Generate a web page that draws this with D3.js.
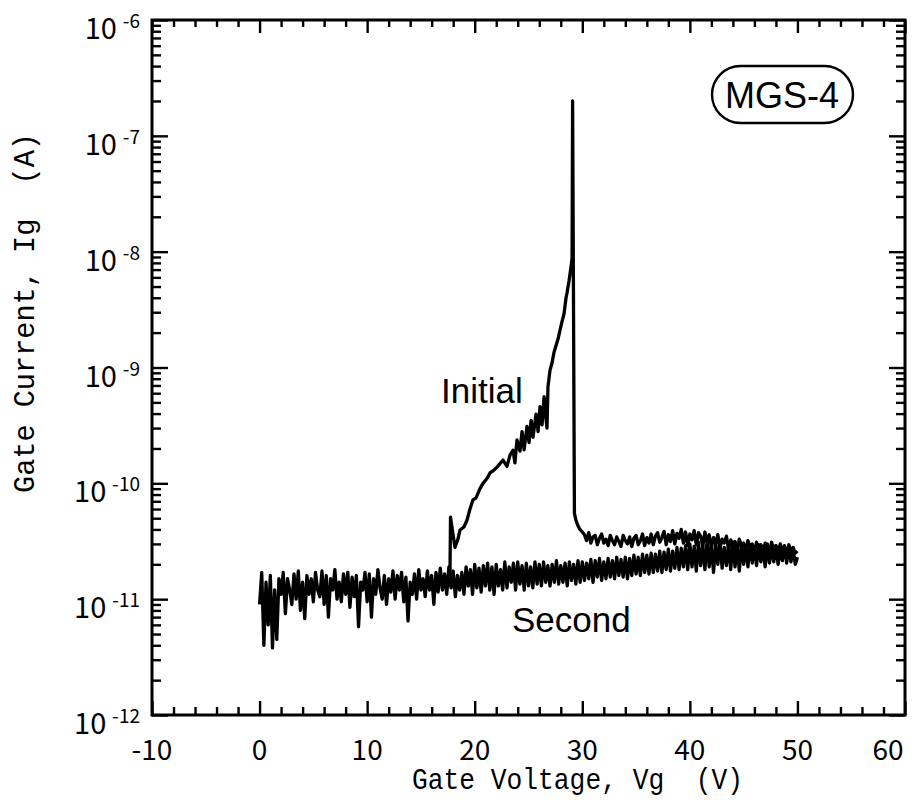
<!DOCTYPE html>
<html>
<head>
<meta charset="utf-8">
<script src="https://cdn.jsdelivr.net/npm/d3@7"></script>
<style>
  html, body { margin: 0; padding: 0; background: #fff; }
  svg { display: block; }
</style>
</head>
<body>
<svg id="chart" width="912" height="800"></svg>
<script>
// Gate current sweeps against gate voltage (V); currents listed in pA
const xTickValues = [-10, 0, 10, 20, 30, 40, 50, 60];
const xMinorValues = [-8, -6, -4, -2, 2, 4, 6, 8, 12, 14, 16, 18, 22, 24, 26, 28, 32, 34, 36, 38, 42, 44, 46, 48, 52, 54, 56, 58];
const yDecades = [-12, -11, -10, -9, -8, -7, -6];

// Second sweep
const secondV = [
  0,0.2,0.4,0.6,0.8,1,1.2,1.4,1.6,1.8,
  2,2.2,2.4,2.6,2.8,3,3.2,3.4,3.6,3.8,
  4,4.2,4.4,4.6,4.8,5,5.2,5.4,5.6,5.8,
  6,6.2,6.4,6.6,6.8,7,7.2,7.4,7.6,7.8,
  8,8.2,8.4,8.6,8.8,9,9.2,9.4,9.6,9.8,
  10,10.2,10.4,10.6,10.8,11,11.2,11.4,11.6,11.8,
  12,12.2,12.4,12.6,12.8,13,13.2,13.4,13.6,13.8,
  14,14.2,14.4,14.6,14.8,15,15.2,15.4,15.6,15.8,
  16,16.2,16.4,16.6,16.8,17,17.2,17.4,17.6,17.8,
  18,18.2,18.4,18.6,18.8,19,19.2,19.4,19.6,19.8,
  20,20.2,20.4,20.6,20.8,21,21.2,21.4,21.6,21.8,
  22,22.2,22.4,22.6,22.8,23,23.2,23.4,23.6,23.8,
  24,24.2,24.4,24.6,24.8,25,25.2,25.4,25.6,25.8,
  26,26.2,26.4,26.6,26.8,27,27.2,27.4,27.6,27.8,
  28,28.2,28.4,28.6,28.8,29,29.2,29.4,29.6,29.8,
  30,30.2,30.4,30.6,30.8,31,31.2,31.4,31.6,31.8,
  32,32.2,32.4,32.6,32.8,33,33.2,33.4,33.6,33.8,
  34,34.2,34.4,34.6,34.8,35,35.2,35.4,35.6,35.8,
  36,36.2,36.4,36.6,36.8,37,37.2,37.4,37.6,37.8,
  38,38.2,38.4,38.6,38.8,39,39.2,39.4,39.6,39.8,
  40,40.2,40.4,40.6,40.8,41,41.2,41.4,41.6,41.8,
  42,42.2,42.4,42.6,42.8,43,43.2,43.4,43.6,43.8,
  44,44.2,44.4,44.6,44.8,45,45.2,45.4,45.6,45.8,
  46,46.2,46.4,46.6,46.8,47,47.2,47.4,47.6,47.8,
  48,48.2,48.4,48.6,48.8,49,49.2,49.4,49.6,49.8,
  50
];
const secondPA = [
  9,17,4,14,6,16,3.8,12,4.5,15,
  11,17,7.5,15,12,9,16.5,10,17.5,8,
  14,6.8,16,11,15,9.5,17,12,10.5,17.5,
  9,16,7,15,12,18,10,14,9.5,16.5,
  11,17,8.5,15.5,10.5,16,5.8,14,12,17,
  9.5,16.5,7,15,11,18,12.5,10,16,9,
  15,11.5,17.5,10,16,12,17,9.5,15.5,6.5,
  14,11,16.5,10,18,12,15,10.5,17.5,12,
  16,9,17,11.5,18.5,12,16.5,11,19,12.5,
  17.5,10.5,16,12,17,11,19,13,18,11,
  20,12.5,18.5,11.5,19.5,13,20.5,12,19,11,
  20,13,18,12,21,12.5,19,14,20.5,12,
  21,13.5,19.5,12,20.5,13,19,12.5,21,13.5,
  20,13,21,14,19.5,13,20,14,21.5,13.5,
  19.5,14,20.5,13,21,14.5,20,13.5,21.5,14,
  21,14.5,20.5,15,22,14,21.5,15.5,22.5,14.5,
  21,15,22.5,15.5,21.5,15,23,16,22,15.5,
  23,15,22.5,16,24,16.5,23,16,24.5,17,
  24,16.5,25,17,24.5,17.5,26,17,25.5,18,
  27,17.5,26,18.5,28,18,27.5,19,29,18,
  30,19,28.5,17.5,31,19.5,29,18,32,19,
  29.5,17,30,20,31.5,18.5,28,19.5,30,18,
  31,19,29,17.5,30.5,20,28.5,19,29.5,20.5,
  28,19.5,29.5,21,28.5,19,30,20.5,28,21,
  29,20,27.5,21.5,29,20.5,28,21,27,20,
  23
];

// Initial sweep: rise, breakdown spike near 29 V, then recovery
const initialV = [
  17.70,17.75,18.16,18.44,18.63,19.00,19.28,19.56,19.84,20.12,
  20.49,20.77,21.14,21.42,21.79,22.07,22.35,22.63,23.00,23.28,
  23.56,23.74,23.93,24.21,24.40,24.59,24.86,25.05,25.24,25.42,
  25.70,25.89,26.07,26.26,26.45,26.63,26.72,26.81,27.00,27.19,
  27.37,27.56,27.74,27.93,28.12,28.30,28.49,28.58,28.77,28.96,
  29.05,29.10,29.27,29.41,29.60,29.78,30.0,
  30.2,30.4,30.6,30.8,31,31.2,31.4,31.6,31.8,32,
  32.2,32.4,32.6,32.8,33,33.2,33.4,33.6,33.8,34,
  34.2,34.4,34.6,34.8,35,35.2,35.4,35.6,35.8,36,
  36.2,36.4,36.6,36.8,37,37.2,37.4,37.6,37.8,38,
  38.2,38.4,38.6,38.8,39,39.2,39.4,39.6,39.8,40,
  40.2,40.4,40.6,40.8,41,41.2,41.4,41.6,41.8,42,
  42.2,42.4,42.6,42.8,43,43.2,43.4,43.6,43.8,44,
  44.2,44.4,44.6,44.8,45,45.2,45.4,45.6,45.8,46,
  46.2,46.4,46.6,46.8,47,47.2,47.4,47.6,47.8,48,
  48.2,48.4,48.6,48.8,49,49.2,49.4,49.6,49.8,50
];
const initialPA = [
  16,51,28,33,39.5,42,48,60,72,75,
  90,100,110,123,130,138,148,159,140,175,
  193,150,237,190,280,195,310,225,350,250,
  395,280,460,320,560,360,300,680,950,1100,
  1350,1550,1750,2100,2500,2900,4000,4400,5600,7500,
  8800,200000,55,48,43,40,38,
  36,32,37.5,30.5,34.5,35.5,29.5,33.5,36.5,30.5,
  33,29,35.5,32,29.5,34.5,31.5,28.5,35.5,32,
  30,34.5,28.5,33.5,35.5,29.5,32,36.5,29,34,
  30.5,36.5,29.5,35,37.5,31,34,38.5,29.5,36,
  31.5,39,30,37,33.5,40,30.5,38,29,36.5,
  32.5,39,29.5,37.5,35,28.5,38,31.5,36,28,
  34,30,36,27.5,33,30.5,35,27,32.5,28.5,
  31.5,26.5,33,28.5,30.5,26,32,28,30,25.5,
  31,27,29.5,25,30.5,27.5,26,31,26.5,29,
  25,30,26.5,28.5,24.5,29.5,26,28,25,26
];

const svg = d3.select("#chart");
const plot = { left: 152, right: 905, top: 20, bottom: 715 };

const x = d3.scaleLinear().domain([-10, 60]).range([plot.left, plot.right]);
const y = d3.scaleLog().domain([1e-12, 1e-6]).range([plot.bottom, plot.top]);

const yMajor = yDecades.map(e => Math.pow(10, e));
const yMinor = [];
yDecades.slice(0, -1).forEach(e => {
  for (let k = 2; k <= 9; k++) yMinor.push(k * Math.pow(10, e));
});

// Tick marks, all pointing inward
function tickGroup(axis, transform) {
  const g = svg.append("g").attr("transform", transform).call(axis);
  g.select(".domain").remove();
  g.selectAll(".tick line").attr("stroke", "#000").attr("stroke-width", 2.4);
  g.selectAll(".tick text").remove();
  return g;
}
tickGroup(d3.axisBottom(x).tickValues(xTickValues).tickSize(-14).tickFormat(""), `translate(0,${plot.bottom})`);
tickGroup(d3.axisBottom(x).tickValues(xMinorValues).tickSize(-8).tickFormat(""), `translate(0,${plot.bottom})`);
tickGroup(d3.axisTop(x).tickValues(xTickValues).tickSize(-13).tickFormat(""), `translate(0,${plot.top})`);
tickGroup(d3.axisTop(x).tickValues(xMinorValues).tickSize(-7).tickFormat(""), `translate(0,${plot.top})`);
tickGroup(d3.axisLeft(y).tickValues(yMajor).tickSize(-16).tickFormat(""), `translate(${plot.left},0)`);
tickGroup(d3.axisLeft(y).tickValues(yMinor).tickSize(-9).tickFormat(""), `translate(${plot.left},0)`);
tickGroup(d3.axisRight(y).tickValues(yMajor).tickSize(-16).tickFormat(""), `translate(${plot.right},0)`);
tickGroup(d3.axisRight(y).tickValues(yMinor).tickSize(-9).tickFormat(""), `translate(${plot.right},0)`);

// Frame
svg.append("rect")
  .attr("x", plot.left).attr("y", plot.top)
  .attr("width", plot.right - plot.left).attr("height", plot.bottom - plot.top)
  .attr("fill", "none").attr("stroke", "#000").attr("stroke-width", 3);

const tickFont = "'Noto Sans CJK JP', 'Noto Sans', sans-serif";

// X tick labels (the last one is kept inside the page edge)
svg.append("g").selectAll("text").data(xTickValues).join("text")
  .attr("x", d => Math.min(x(d), 888)).attr("y", 760)
  .attr("text-anchor", "middle")
  .attr("font-family", tickFont).attr("font-size", 28).attr("fill", "#000")
  .text(d => d);

// Y tick labels as powers of ten
const yLab = svg.append("g").selectAll("text").data(yDecades).join("text")
  .attr("x", 140).attr("y", d => y(Math.pow(10, d)) + 19)
  .attr("text-anchor", "end")
  .attr("font-family", tickFont).attr("font-size", 29).attr("fill", "#000");
yLab.append("tspan").text("10");
yLab.append("tspan").attr("dx", 6).attr("dy", -11).attr("font-size", 19).text(d => "-" + Math.abs(d));

// Axis titles
const titleFont = "'Liberation Mono', 'DejaVu Sans Mono', monospace";
svg.append("text")
  .attr("x", 412).attr("y", 789)
  .attr("font-family", titleFont).attr("font-size", 29).attr("fill", "#000")
  .attr("textLength", 331).attr("lengthAdjust", "spacingAndGlyphs")
  .attr("xml:space", "preserve")
  .text("Gate Voltage, Vg  (V)");
svg.append("text")
  .attr("transform", "translate(34,493) rotate(-90)")
  .attr("x", 0).attr("y", 0)
  .attr("font-family", titleFont).attr("font-size", 29).attr("fill", "#000")
  .attr("textLength", 360).attr("lengthAdjust", "spacingAndGlyphs")
  .attr("xml:space", "preserve")
  .text("Gate Current, Ig  (A)");

// Curves
const pA = 1e-12;
const line = d3.line().x(d => x(d[0])).y(d => y(d[1]));
const secondData = secondV.map((v, i) => [v, secondPA[i] * pA]);
const initialData = initialV.map((v, i) => [v, initialPA[i] * pA]);

svg.append("path").datum(secondData)
  .attr("d", line).attr("fill", "none").attr("stroke", "#000")
  .attr("stroke-width", 3.3).attr("stroke-linejoin", "round");
svg.append("path").datum(initialData)
  .attr("d", line).attr("fill", "none").attr("stroke", "#000")
  .attr("stroke-width", 3.3).attr("stroke-linejoin", "round");

// Curve labels
const labelFont = "'Liberation Sans', Arial, sans-serif";
svg.append("text").attr("x", 441).attr("y", 403)
  .attr("font-family", labelFont).attr("font-size", 35).attr("fill", "#000").text("Initial");
svg.append("text").attr("x", 512).attr("y", 632)
  .attr("font-family", labelFont).attr("font-size", 35).attr("fill", "#000").text("Second");

// Sample tag
svg.append("rect").attr("x", 712).attr("y", 66).attr("width", 141).attr("height", 57)
  .attr("rx", 28.5).attr("fill", "none").attr("stroke", "#000").attr("stroke-width", 2.4);
svg.append("text").attr("x", 782).attr("y", 108).attr("text-anchor", "middle")
  .attr("font-family", labelFont).attr("font-size", 36).attr("fill", "#000").text("MGS-4");
</script>
</body>
</html>
